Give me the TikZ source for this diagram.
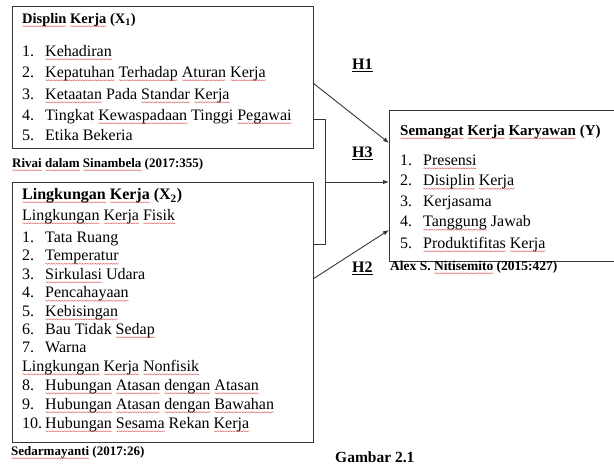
\documentclass[tikz,border=0pt]{standalone}
\usepackage{fontspec}
\setmainfont{Liberation Serif}
\usetikzlibrary{arrows.meta,decorations.pathmorphing}
\definecolor{sqred}{RGB}{220,90,90}
\definecolor{linec}{RGB}{55,55,55}
\newsavebox\sqbox
\newcommand\sq[1]{\sbox\sqbox{#1}\rlap{\raisebox{-2.8pt}[0pt][0pt]{\tikz[baseline=0pt]\draw[sqred, line width=0.4pt, decorate, decoration={snake, amplitude=0.55pt, segment length=2.6pt}] (0pt,0pt) -- (\wd\sqbox,0pt);}}\usebox\sqbox}
\newcommand\nb[1]{\makebox[23pt][l]{#1}}
\tikzset{
  txt/.style={anchor=west, inner sep=0pt, text height=0.7em, text depth=0.2em, font=\fontsize{16}{19}\selectfont},
  ttl/.style={txt, font=\fontsize{#1}{18}\selectfont\bfseries},
  cite/.style={txt, font=\fontsize{13}{15}\selectfont\bfseries},
  hlab/.style={txt, font=\fontsize{16}{19}\selectfont\bfseries},
  box/.style={draw=linec, line width=1.1pt, anchor=north west, inner sep=0pt},
  conn/.style={draw=linec, line width=0.9pt},
  arr/.style={-{Latex[length=6pt,width=4.5pt]}}
}
\begin{document}
\begin{tikzpicture}[x=1pt,y=-1pt]
\clip (0,0) rectangle (614,465);
\fill[white] (0,0) rectangle (614,465);
% boxes
\node[box, minimum width=301pt, minimum height=142pt] (bx1) at (12,6) {};
\node[box, minimum width=301pt, minimum height=260pt] (bx2) at (12,182) {};
\node[box, minimum width=240pt, minimum height=151pt] (bxy) at (389,110) {};
% box 1 text
\node[ttl=14.5] (t1) at (22,21) {\sq{Displin} \sq{Kerja} (X\textsubscript{1})};
\node[txt] (a1) at (22,54) {\nb{1.}\sq{Kehadiran}};
\node[txt] (a2) at (22,75) {\nb{2.}\sq{Kepatuhan} \sq{Terhadap} \sq{Aturan} \sq{Kerja}};
\node[txt] (a3) at (22,97) {\nb{3.}\sq{Ketaatan} Pada \sq{Standar} \sq{Kerja}};
\node[txt] (a4) at (22,118) {\nb{4.}Tingkat \sq{Kewaspadaan} Tinggi \sq{Pegawai}};
\node[txt] (a5) at (22,138) {\nb{5.}Etika Bekeria};
\node[cite] (c1) at (12,165) {\sq{Rivai} \sq{dalam} \sq{Sinambela} (2017:355)};
% box 2 text
\node[ttl=16] (t2) at (22,197) {\sq{Lingkungan} \sq{Kerja} (X\textsubscript{2})};
\node[txt] (f0) at (22,218) {\sq{Lingkungan} \sq{Kerja} \sq{Fisik}};
\node[txt] (b1) at (22,240) {\nb{1.}Tata Ruang};
\node[txt] (b2) at (22,258.5) {\nb{2.}\sq{Temperatur}};
\node[txt] (b3) at (22,277) {\nb{3.}\sq{Sirkulasi} Udara};
\node[txt] (b4) at (22,295.5) {\nb{4.}\sq{Pencahayaan}};
\node[txt] (b5) at (22,314) {\nb{5.}\sq{Kebisingan}};
\node[txt] (b6) at (22,332) {\nb{6.}Bau Tidak \sq{Sedap}};
\node[txt] (b7) at (22,350) {\nb{7.}Warna};
\node[txt] (n0) at (22,369) {\sq{Lingkungan} \sq{Kerja} \sq{Nonfisik}};
\node[txt] (b8) at (22,388) {\nb{8.}\sq{Hubungan} \sq{Atasan} \sq{dengan} \sq{Atasan}};
\node[txt] (b9) at (22,407) {\nb{9.}\sq{Hubungan} \sq{Atasan} \sq{dengan} \sq{Bawahan}};
\node[txt] (b10) at (22,426) {\nb{10.}\sq{Hubungan} \sq{Sesama} Rekan \sq{Kerja}};
\node[cite] (c2) at (11,453) {\sq{Sedarmayanti} (2017:26)};
% box Y text
\node[ttl=15] (ty) at (400,133) {\sq{Semangat} \sq{Kerja} \sq{Karyawan} (Y)};
\node[txt] (y1) at (400,163) {\nb{1.}\sq{Presensi}};
\node[txt] (y2) at (400,183.5) {\nb{2.}\sq{Disiplin} \sq{Kerja}};
\node[txt] (y3) at (400,204) {\nb{3.}Kerjasama};
\node[txt] (y4) at (400,224.5) {\nb{4.}\sq{Tanggung} Jawab};
\node[txt] (y5) at (400,246) {\nb{5.}\sq{Produktifitas} \sq{Kerja}};
\node[cite, font=\fontsize{13.5}{15}\selectfont\bfseries] (c3) at (390,268) {Alex S. \sq{Nitisemito} (2015:427)};
% labels
\node[hlab] (h1) at (352,67) {\underline{H1}};
\node[hlab] (h3) at (352,155) {\underline{H3}};
\node[hlab] (h2) at (352,270) {\underline{H2}};
\node[txt, font=\fontsize{15.5}{18}\selectfont\bfseries] (gb) at (335,460) {Gambar 2.1};
% connector points
\coordinate (p1a) at (313,83);
\coordinate (p1b) at (389,143);
\coordinate (p3a) at (313,119);
\coordinate (p3b) at (325,119);
\coordinate (p3c) at (325,244);
\coordinate (p3d) at (313,244);
\coordinate (p3m) at (325,182);
\coordinate (p3e) at (389,182);
\coordinate (p2a) at (313,279);
\coordinate (p2b) at (389,230);
% connectors
\draw[conn, arr] (p1a) -- (p1b);
\draw[conn] (p3a) -- (p3b) -- (p3c) -- (p3d);
\draw[conn, arr] (p3m) -- (p3e);
\draw[conn, arr] (p2a) -- (p2b);
\end{tikzpicture}
\end{document}
